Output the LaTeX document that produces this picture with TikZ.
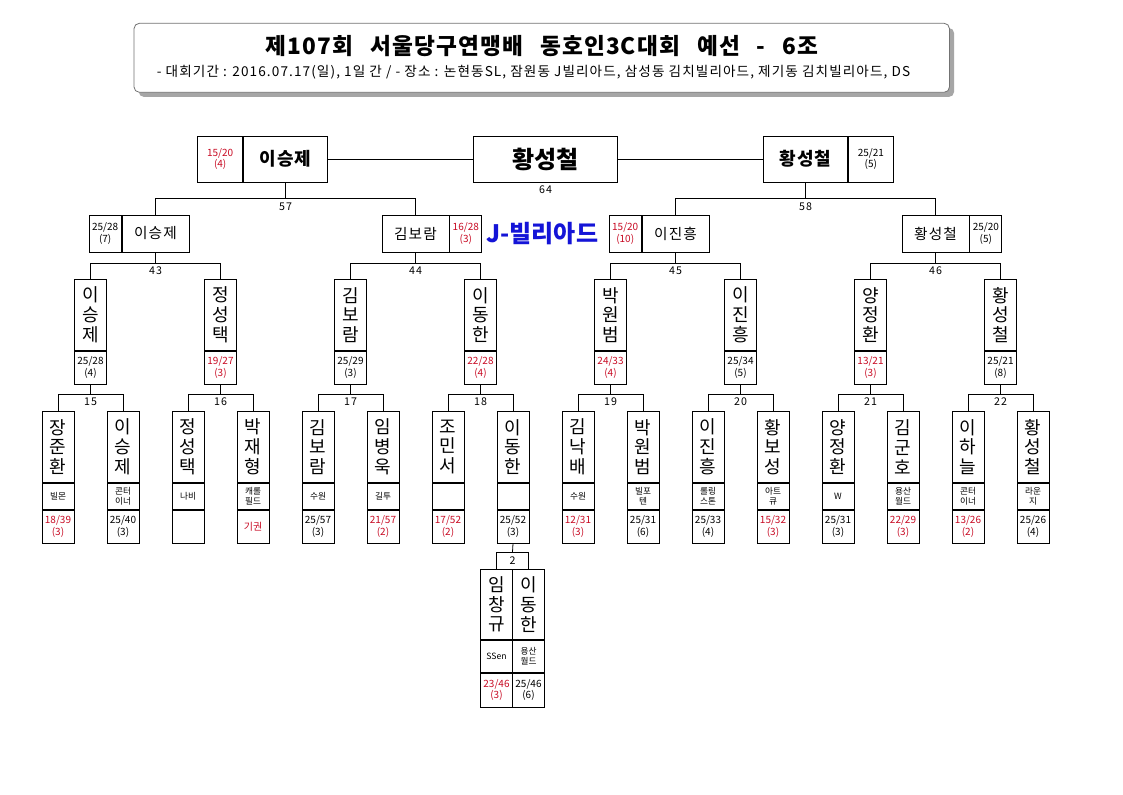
\documentclass[tikz,border=0pt]{standalone}
\usepackage{fontspec}
\setmainfont{Noto Sans CJK KR}
\usepackage{xcolor}
\usepackage{tikz}
\usetikzlibrary{positioning, shadows}
\definecolor{lred}{RGB}{200,10,35}
\definecolor{jblue}{RGB}{20,20,215}
\tikzstyle{box} = [draw, inner sep=0pt, align=center]
\tikzstyle{vname} = [box, minimum width=24pt, minimum height=53.25pt, font=\fontsize{13.5}{14.8}\selectfont]
\tikzstyle{club} = [box, minimum width=24pt, minimum height=19.5pt, font=\fontsize{6.5}{7.2}\selectfont]
\tikzstyle{score} = [box, minimum width=24pt, minimum height=24.75pt, font=\fontsize{7.5}{8.8}\selectfont]
\tikzstyle{qname} = [box, minimum width=50.25pt, minimum height=27.75pt, font=\fontsize{11}{13}\selectfont\addfontfeatures{LetterSpace=8}]
\tikzstyle{qscore} = [box, minimum width=24pt, minimum height=27.75pt, font=\fontsize{7.5}{8.8}\selectfont]
\tikzstyle{sname} = [box, minimum width=63pt, minimum height=34.5pt, font=\fontsize{13.5}{15}\selectfont\bfseries\addfontfeatures{LetterSpace=6}]
\tikzstyle{sscore} = [box, minimum width=33.75pt, minimum height=34.5pt, font=\fontsize{7.5}{8.8}\selectfont]
\tikzstyle{num} = [inner sep=0pt, font=\fontsize{8}{9}\selectfont\addfontfeatures{LetterSpace=10}]
\tikzstyle{lost} = [text=lred]
\newcommand{\pone}[6]{%
  \node[vname, anchor=north] (#1) at (#2,411) {#3};
  \node[club, below=0pt of #1] (#1c) {#4};
  \node[score, below=0pt of #1c, #6] (#1s) {#5};}
\newcommand{\ptwo}[5]{%
  \node[vname, anchor=north] (#1) at (#2,279) {#3};
  \node[score, below=0pt of #1, #5] (#1s) {#4};}
\newcommand{\gap}{\hspace{8pt}}

\begin{document}
\begin{tikzpicture}[x=0.75pt, y=-0.75pt, line width=0.6pt]
    \fill[white] (0,0) rectangle (1123,794);
    \useasboundingbox (0,0) rectangle (1123,794);

    \node[draw=black!55, fill=white, rounded corners=4pt, minimum width=611.6pt, minimum height=51.75pt,
          drop shadow={shadow xshift=3.5pt, shadow yshift=-3.5pt, fill=black!35, opacity=1}] (tb) at (541.75,57.8) {};
    \node[font=\fontsize{17}{20}\selectfont\bfseries\addfontfeatures{LetterSpace=5}] (t1) at (542,46.5) {제107회 \gap 서울당구연맹배 \gap 동호인3C대회 \gap 예선 \gap - \gap 6조};
    \node[font=\fontsize{10.2}{11}\selectfont\addfontfeatures{LetterSpace=8}] (t2) at (533.5,72.5) {- 대회기간 : 2016.07.17(일), 1일 간 / - 장소 : 논현동SL, 잠원동 J빌리아드, 삼성동 김치빌리아드, 제기동 김치빌리아드, DS};

    \node[box, minimum width=108pt, minimum height=34.5pt, font=\fontsize{18}{20}\selectfont\bfseries] (f) at (545.5,159) {황성철};
    \node[num] (m64) at (545.5,190) {64};
    \node[sname] (s1) at (285.5,159) {이승제};
    \node[sscore, left=0pt of s1, lost] (s1s) {15/20\\(4)};
    \node[sname] (s2) at (805.5,159) {황성철};
    \node[sscore, right=0pt of s2] (s2s) {25/21\\(5)};
    \draw (s1.east) -- (f.west);
    \draw (f.east) -- (s2.west);

    \node[qname] (q1) at (155.5,233.5) {이승제};
    \node[qscore, left=0pt of q1] (q1s) {25/28\\(7)};
    \node[qname] (q2) at (415.5,233.5) {김보람};
    \node[qscore, right=0pt of q2, lost] (q2s) {16/28\\(3)};
    \node[qname] (q3) at (675.5,233.5) {이진흥};
    \node[qscore, left=0pt of q3, lost] (q3s) {15/20\\(10)};
    \node[qname] (q4) at (935.5,233.5) {황성철};
    \node[qscore, right=0pt of q4] (q4s) {25/20\\(5)};
    \node[font=\fontsize{18}{20}\selectfont\bfseries, text=jblue] (jb) at (542.3,234) {J-빌리아드};

    \ptwo{r1}{90.5}{이\\승\\제}{25/28\\(4)}{}
    \ptwo{r2}{220.5}{정\\성\\택}{19/27\\(3)}{lost}
    \ptwo{r3}{350.5}{김\\보\\람}{25/29\\(3)}{}
    \ptwo{r4}{480.5}{이\\동\\한}{22/28\\(4)}{lost}
    \ptwo{r5}{610.5}{박\\원\\범}{24/33\\(4)}{lost}
    \ptwo{r6}{740.5}{이\\진\\흥}{25/34\\(5)}{}
    \ptwo{r7}{870.5}{양\\정\\환}{13/21\\(3)}{lost}
    \ptwo{r8}{1000.5}{황\\성\\철}{25/21\\(8)}{}

    \pone{p1}{58}{장\\준\\환}{빌몬}{18/39\\(3)}{lost}
    \pone{p2}{123}{이\\승\\제}{콘터\\이너}{25/40\\(3)}{}
    \pone{p3}{188}{정\\성\\택}{나비}{}{}
    \pone{p4}{253}{박\\재\\형}{캐롤\\필드}{기권}{lost}
    \pone{p5}{318}{김\\보\\람}{수원}{25/57\\(3)}{}
    \pone{p6}{383}{임\\병\\욱}{길투}{21/57\\(2)}{lost}
    \pone{p7}{448}{조\\민\\서}{}{17/52\\(2)}{lost}
    \pone{p8}{513}{이\\동\\한}{}{25/52\\(3)}{}
    \pone{p9}{578}{김\\낙\\배}{수원}{12/31\\(3)}{lost}
    \pone{p10}{643}{박\\원\\범}{빌포\\텐}{25/31\\(6)}{}
    \pone{p11}{708}{이\\진\\흥}{롤링\\스톤}{25/33\\(4)}{}
    \pone{p12}{773}{황\\보\\성}{아트\\큐}{15/32\\(3)}{lost}
    \pone{p13}{838}{양\\정\\환}{W}{25/31\\(3)}{}
    \pone{p14}{903}{김\\군\\호}{용산\\월드}{22/29\\(3)}{lost}
    \pone{p15}{968}{이\\하\\늘}{콘터\\이너}{13/26\\(2)}{lost}
    \pone{p16}{1033}{황\\성\\철}{라운\\지}{25/26\\(4)}{}

    \node[vname, minimum height=52.5pt, anchor=north] (x1) at (496.5,569) {임\\창\\규};
    \node[club, minimum height=24pt, below=0pt of x1] (x1c) {SSen};
    \node[score, minimum height=25.5pt, below=0pt of x1c, lost] (x1s) {23/46\\(3)};
    \node[vname, minimum height=52.5pt, anchor=north] (x2) at (528.5,569) {이\\동\\한};
    \node[club, minimum height=24pt, below=0pt of x2] (x2c) {용산\\월드};
    \node[score, minimum height=25.5pt, below=0pt of x2c] (x2s) {25/46\\(6)};

    \coordinate (j57) at (285.5,198);
    \coordinate (j58) at (805.5,198);
    \node[num] (m57) at (285.5,207) {57};
    \node[num] (m58) at (805.5,207) {58};
    \draw (q1.north) |- (j57) -| (q2.north);
    \draw (q3.north) |- (j58) -| (q4.north);
    \draw (s1.south) -- (j57);
    \draw (s2.south) -- (j58);

    \coordinate (j43) at (155.5,263);
    \coordinate (j44) at (415.5,263);
    \coordinate (j45) at (675.5,263);
    \coordinate (j46) at (935.5,263);
    \node[num] (m43) at (155.5,271) {43};
    \node[num] (m44) at (415.5,271) {44};
    \node[num] (m45) at (675.5,271) {45};
    \node[num] (m46) at (935.5,271) {46};
    \draw (r1.north) |- (j43) -| (r2.north);
    \draw (r3.north) |- (j44) -| (r4.north);
    \draw (r5.north) |- (j45) -| (r6.north);
    \draw (r7.north) |- (j46) -| (r8.north);
    \draw (q1.south) -- (j43);
    \draw (q2.south) -- (j44);
    \draw (q3.south) -- (j45);
    \draw (q4.south) -- (j46);

    \coordinate (j15) at (90.5,394);
    \coordinate (j16) at (220.5,394);
    \coordinate (j17) at (350.5,394);
    \coordinate (j18) at (480.5,394);
    \coordinate (j19) at (610.5,394);
    \coordinate (j20) at (740.5,394);
    \coordinate (j21) at (870.5,394);
    \coordinate (j22) at (1000.5,394);
    \node[num] (m15) at (90.5,402) {15};
    \node[num] (m16) at (220.5,402) {16};
    \node[num] (m17) at (350.5,402) {17};
    \node[num] (m18) at (480.5,402) {18};
    \node[num] (m19) at (610.5,402) {19};
    \node[num] (m20) at (740.5,402) {20};
    \node[num] (m21) at (870.5,402) {21};
    \node[num] (m22) at (1000.5,402) {22};
    \draw (p1.north) |- (j15) -| (p2.north);
    \draw (p3.north) |- (j16) -| (p4.north);
    \draw (p5.north) |- (j17) -| (p6.north);
    \draw (p7.north) |- (j18) -| (p8.north);
    \draw (p9.north) |- (j19) -| (p10.north);
    \draw (p11.north) |- (j20) -| (p12.north);
    \draw (p13.north) |- (j21) -| (p14.north);
    \draw (p15.north) |- (j22) -| (p16.north);
    \draw (r1s.south) -- (j15);
    \draw (r2s.south) -- (j16);
    \draw (r3s.south) -- (j17);
    \draw (r4s.south) -- (j18);
    \draw (r5s.south) -- (j19);
    \draw (r6s.south) -- (j20);
    \draw (r7s.south) -- (j21);
    \draw (r8s.south) -- (j22);

    \coordinate (j2) at (512.5,552);
    \node[num] (m2) at (512.5,561) {2};
    \draw (x1.north) |- (j2) -| (x2.north);
    \draw (p8s.south) -- (j2);
\end{tikzpicture}
\end{document}
